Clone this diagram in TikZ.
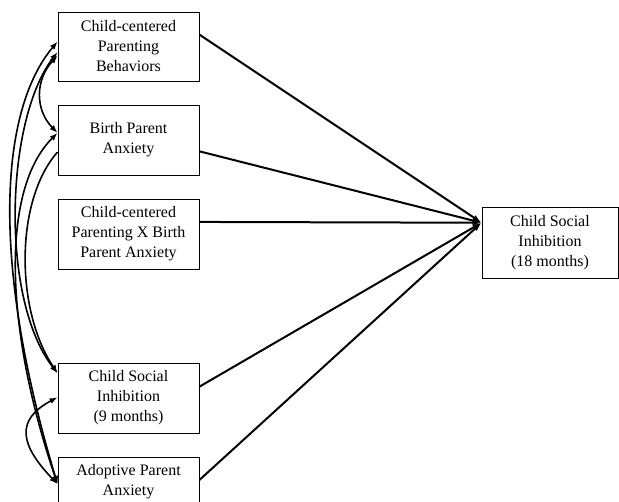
\documentclass[tikz,border=0pt]{standalone}
\usepackage{fontspec}
\setmainfont{Liberation Serif}
\usetikzlibrary{arrows.meta,calc}
\begin{document}
\begin{tikzpicture}[x=1pt,y=-1pt,
  box/.style={draw=black,line width=0.9pt,rectangle,align=center,inner sep=0pt,
    minimum width=141pt,minimum height=70pt,font=\fontsize{16}{20}\selectfont},
  path/.style={line width=2pt,-{Latex[length=9pt,width=6pt]}},
  cov/.style={line width=1.6pt,{Latex[length=8pt,width=6pt]}-{Latex[length=8pt,width=6pt]}},
  covone/.style={line width=1.6pt,-{Latex[length=8pt,width=6pt]}}]
\useasboundingbox (0,0) rectangle (619,502);
\clip (0,0) rectangle (619,502);
\node[box,minimum height=69pt] (b1) at (128.5,46.5) {Child-centered\\Parenting\\Behaviors};
\node[box] (b2) at (128.5,140) {Birth Parent\\Anxiety};
\node[box] (b3) at (128.5,234) {Child-centered\\Parenting X Birth\\Parent Anxiety};
\node[box] (b4) at (128.5,398) {Child Social\\Inhibition\\(9 months)};
\node[box,minimum height=50pt] (b5) at (128.5,482) {Adoptive Parent\\Anxiety};
\node[box,minimum width=136pt,minimum height=71pt] (r) at (550,242.5) {Child Social\\Inhibition\\(18 months)};
\coordinate (t) at ($(r.north west)!0.225!(r.south west)$);
% paths to outcome
\draw[path] ($(b1.north east)!0.33!(b1.south east)$) -- (t);
\draw[path] ($(b2.north east)!0.66!(b2.south east)$) -- (t);
\draw[path] ($(b3.north east)!0.33!(b3.south east)$) -- (t);
\draw[path] ($(b4.north east)!0.34!(b4.south east)$) -- (t);
\draw[path] ($(b5.north east)!0.46!(b5.south east)$) -- (t);
% covariances
\coordinate (b1a) at ($(b1.north west)!0.43!(b1.south west)$);
\coordinate (b1b) at ($(b1.north west)!0.58!(b1.south west)$);
\coordinate (b1c) at ($(b1.north west)!0.63!(b1.south west)$);
\coordinate (b2a) at ($(b2.north west)!0.40!(b2.south west)$);
\coordinate (b2b) at ($(b2.north west)!0.67!(b2.south west)$);
\coordinate (b4a) at ($(b4.north west)!0.15!(b4.south west)$);
\coordinate (b4b) at ($(b4.north west)!0.49!(b4.south west)$);
\coordinate (b5a) at ($(b5.north west)!0.54!(b5.south west)$);
\draw[cov] (b1a) .. controls (0,110) and (-10,260) .. (b5a);
\draw[cov] (b1b) .. controls (5,120) and (0,300) .. (b4a);
\draw[cov] (b2a) .. controls (0,190) and (5,330) .. (b5a);
\draw[covone] (b2b) .. controls (15,200) and (15,310) .. (b4a);
\draw[cov] (b1c) .. controls (35,80) and (35,110) .. (b2a);
\draw[cov] (b4b) .. controls (15,420) and (20,445) .. (b5a);
\end{tikzpicture}
\end{document}
